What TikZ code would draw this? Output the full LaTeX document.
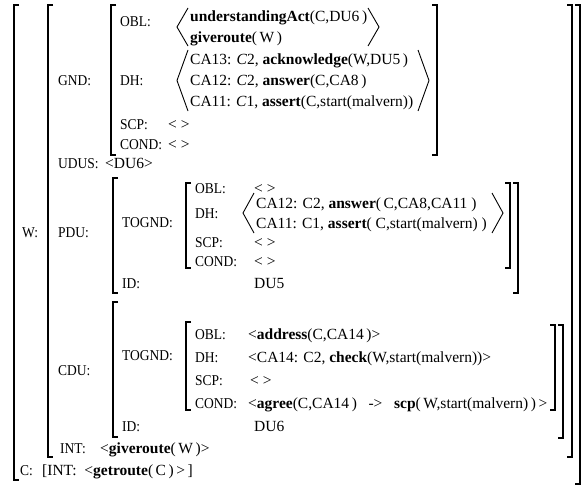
\documentclass[tikz,border=0pt]{standalone}
\usepackage{fontspec}
\setmainfont{Liberation Serif}
\newfontfamily\lblfont[FakeStretch=0.9]{Liberation Serif}
\usetikzlibrary{positioning}

\begin{document}
\begin{tikzpicture}[x=1pt,y=-1pt,
  lbl/.style={anchor=base west,inner sep=0pt,font=\lblfont\fontsize{15}{18}\selectfont},
  val/.style={anchor=base west,inner sep=0pt,font=\fontsize{15.5}{18}\selectfont},
  brk/.style={line width=1.3pt},
  ang/.style={line width=.9pt}]
  \useasboundingbox (0,0) rectangle (585,495);
  \foreach \x/\t/\b in {14/5/480,48/5/457,111/5/155,113/178/293,186/183/268,113/302/437,186/322/410}
    \draw[brk] (\x+5,\t) -- (\x,\t) -- (\x,\b) -- (\x+5,\b);
  \foreach \x/\t/\b in {437/5/155,510/183/268,518/183/293,555/325/410,563/325/438,572/5/457,580/5/484}
    \draw[brk] (\x-5,\t) -- (\x,\t) -- (\x,\b) -- (\x-5,\b);
  \foreach \l/\r/\t/\b in {177/379/8/46,177/429/50/111,243/503/193/233}
    \draw[ang] (\l+11,\t) -- (\l,{(\t+\b)/2}) -- (\l+11,\b)
               (\r-11,\t) -- (\r,{(\t+\b)/2}) -- (\r-11,\b);
  % W and C
  \node[lbl] (w) at (22,237) {W:};
  \node[lbl] (c) at (20,475) {C:};
  \node[val] (cint) at (42,475) {[INT:\ \ <\textbf{getroute}(\,C\,)\,>\,]};
  % grounding
  \node[lbl] (gnd) at (58,85) {GND:};
  \node[lbl] (gobl) at (120,27) {OBL:};
  \node[val] (gobl1) at (190,22) {\textbf{understandingAct}(C,DU6\,)};
  \node[val] (gobl2) at (190,42) {\textbf{giveroute}(\,W\,)};
  \node[lbl] (gdh) at (120,85) {DH:};
  \node[val] (gdh1) at (190,64) {CA13: \textit{C}2, \textbf{acknowledge}(W,DU5\,)};
  \node[val] (gdh2) at (190,85) {CA12: \textit{C}2, \textbf{answer}(C,CA8\,)};
  \node[val] (gdh3) at (190,106) {CA11: \textit{C}1, \textbf{assert}(C,start(malvern))};
  \node[lbl] (gscp) at (120,129) {SCP:};
  \node[val] (gscpv) at (168,129) {< >};
  \node[lbl] (gcond) at (120,149) {COND:};
  \node[val] (gcondv) at (168,149) {< >};
  \node[lbl] (udus) at (58,168) {UDUS:};
  \node[val] (udusv) at (105,168) {<DU6>};
  % previous unit
  \node[lbl] (pdu) at (58,237) {PDU:};
  \node[lbl] (ptog) at (122,227) {TOGND:};
  \node[lbl] (pobl) at (195,193) {OBL:};
  \node[val] (poblv) at (254,193) {< >};
  \node[lbl] (pdh) at (195,218) {DH:};
  \node[val] (pdh1) at (256,208) {CA12: C2, \textbf{answer}(\,C,CA8,CA11\ )};
  \node[val] (pdh2) at (256,228) {CA11: C1, \textbf{assert}(\ C,start(malvern)\ )};
  \node[lbl] (pscp) at (195,247) {SCP:};
  \node[val] (pscpv) at (254,247) {< >};
  \node[lbl] (pcond) at (195,266) {COND:};
  \node[val] (pcondv) at (254,266) {< >};
  \node[lbl] (pid) at (122,288) {ID:};
  \node[val] (pidv) at (254,288) {DU5};
  % current unit
  \node[lbl] (cdu) at (58,375) {CDU:};
  \node[lbl] (ctog) at (122,360) {TOGND:};
  \node[lbl] (cobl) at (195,339) {OBL:};
  \node[val] (coblv) at (248,339) {<\textbf{address}(C,CA14\,)>};
  \node[lbl] (cdh) at (195,362) {DH:};
  \node[val] (cdhv) at (248,362) {<CA14: C2, \textbf{check}(W,start(malvern))>};
  \node[lbl] (cscp) at (195,385) {SCP:};
  \node[val] (cscpv) at (250,385) {< >};
  \node[lbl] (ccond) at (195,408) {COND:};
  \node[val] (ccondv) at (248,408) {<\textbf{agree}(C,CA14\,)\ \ \ ->\ \ \ \textbf{scp}(\,W,start(malvern)\,)\,>};
  \node[lbl] (cid) at (122,431) {ID:};
  \node[val] (cidv) at (254,431) {DU6};
  \node[lbl] (int) at (60,453) {INT:};
  \node[val] (intv) at (100,453) {<\textbf{giveroute}(\,W\,)>};
\end{tikzpicture}
\end{document}
